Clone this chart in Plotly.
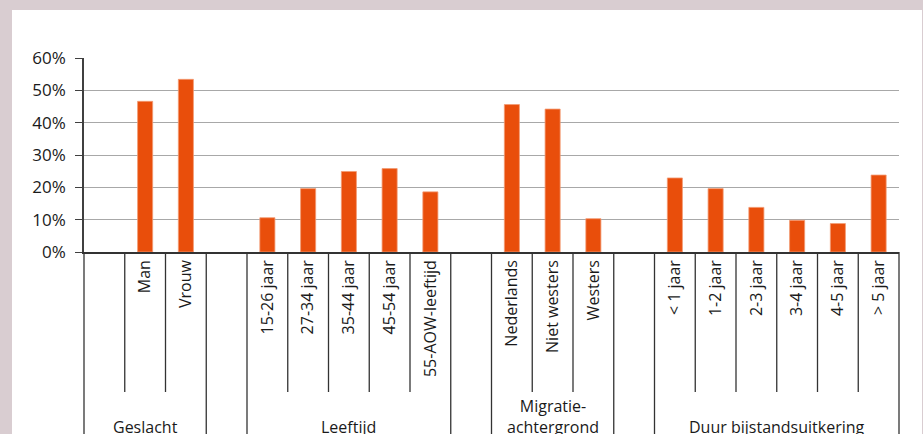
import plotly.graph_objects as go

# ---- data ----
categories = ["", "Man", "Vrouw",
              "",
              "15-26 jaar", "27-34 jaar", "35-44 jaar", "45-54 jaar", "55-AOW-leeftijd",
              "",
              "Nederlands", "Niet westers", "Westers",
              "",
              "< 1 jaar", "1-2 jaar", "2-3 jaar", "3-4 jaar", "4-5 jaar", "> 5 jaar"]
values = [None, 46.6, 53.4,
          None,
          10.6, 19.6, 24.9, 25.8, 18.6,
          None,
          45.6, 44.2, 10.3,
          None,
          22.9, 19.6, 13.8, 9.8, 8.8, 23.8]
group_names = ["Geslacht", "", "Leeftijd", "", "Migratie-<br>achtergrond", "", "Duur bijstandsuitkering"]
group_sizes = [3, 1, 5, 1, 3, 1, 6]
y_ticks = [0, 10, 20, 30, 40, 50, 60]

BAR = "#e94e0b"
PINK = "#d9cdd1"
DARK = "#333333"
FONT = "Open Sans"

W, H = 923, 434
ML, MR, MT, MB = 84, 24, 58, 182
plot_h = H - MT - MB

def py_to_paper(py):
    return 1 - (py - MT) / plot_h

x_idx = list(range(len(categories)))
n = len(categories)

fig = go.Figure()
fig.add_trace(go.Bar(
    x=x_idx, y=values, width=0.37,
    marker=dict(color=BAR, line=dict(color="#f29a74", width=0.8)),
    hoverinfo="skip", showlegend=False,
))

shapes = []
# white panel over pink frame
shapes.append(dict(type="rect", xref="paper", yref="paper", layer="below",
                   x0=(12 - ML) / (W - ML - MR), x1=(922 - ML) / (W - ML - MR),
                   y0=py_to_paper(H + 20), y1=py_to_paper(10),
                   fillcolor="white", line=dict(width=0)))

# separator lines
group_bounds = [0]
for s in group_sizes:
    group_bounds.append(group_bounds[-1] + s)
for b in range(n + 1):
    long_line = b in group_bounds
    shapes.append(dict(type="line", xref="x domain", yref="paper",
                       x0=b / n, x1=b / n,
                       y0=0, y1=py_to_paper(H + 5 if long_line else 392),
                       line=dict(color=DARK, width=1.3)))

annotations = []
start = 0
for name, size in zip(group_names, group_sizes):
    if name:
        annotations.append(dict(x=start + (size - 1) / 2, xref="x",
                                y=py_to_paper(440), yref="paper", yanchor="bottom",
                                text=name, showarrow=False,
                                font=dict(family=FONT, size=16, color="#1a1a1a")))
    start += size

fig.update_layout(
    width=W, height=H,
    margin=dict(l=ML, r=MR, t=MT, b=MB, pad=0),
    paper_bgcolor=PINK, plot_bgcolor="white",
    font=dict(family=FONT, size=16, color="#1a1a1a"),
    shapes=shapes, annotations=annotations,
    bargap=0.6,
)
fig.update_xaxes(
    range=[-0.5, n - 0.5], tickmode="array", tickvals=x_idx, ticktext=categories,
    tickangle=-90, showgrid=False, zeroline=False,
    showline=True, linecolor=DARK, linewidth=1.5, ticks="",
    tickfont=dict(family=FONT, size=16, color="#1a1a1a"),
)
fig.update_yaxes(
    range=[0, 60], tickmode="array", tickvals=y_ticks,
    ticktext=[f"{v}%" for v in y_ticks],
    showgrid=True, gridcolor="#a8a8a8", gridwidth=1.3, zeroline=False,
    showline=True, linecolor="#404040", linewidth=1.5,
    ticks="outside", ticklen=7, tickcolor="#404040", tickwidth=1.3,
    ticklabelstandoff=6,
    tickfont=dict(family=FONT, size=17, color="#1a1a1a"),
)

fig.write_html("out.html", config={"displayModeBar": False},
               post_script="document.body.style.margin='0';document.body.style.overflow='hidden';")
